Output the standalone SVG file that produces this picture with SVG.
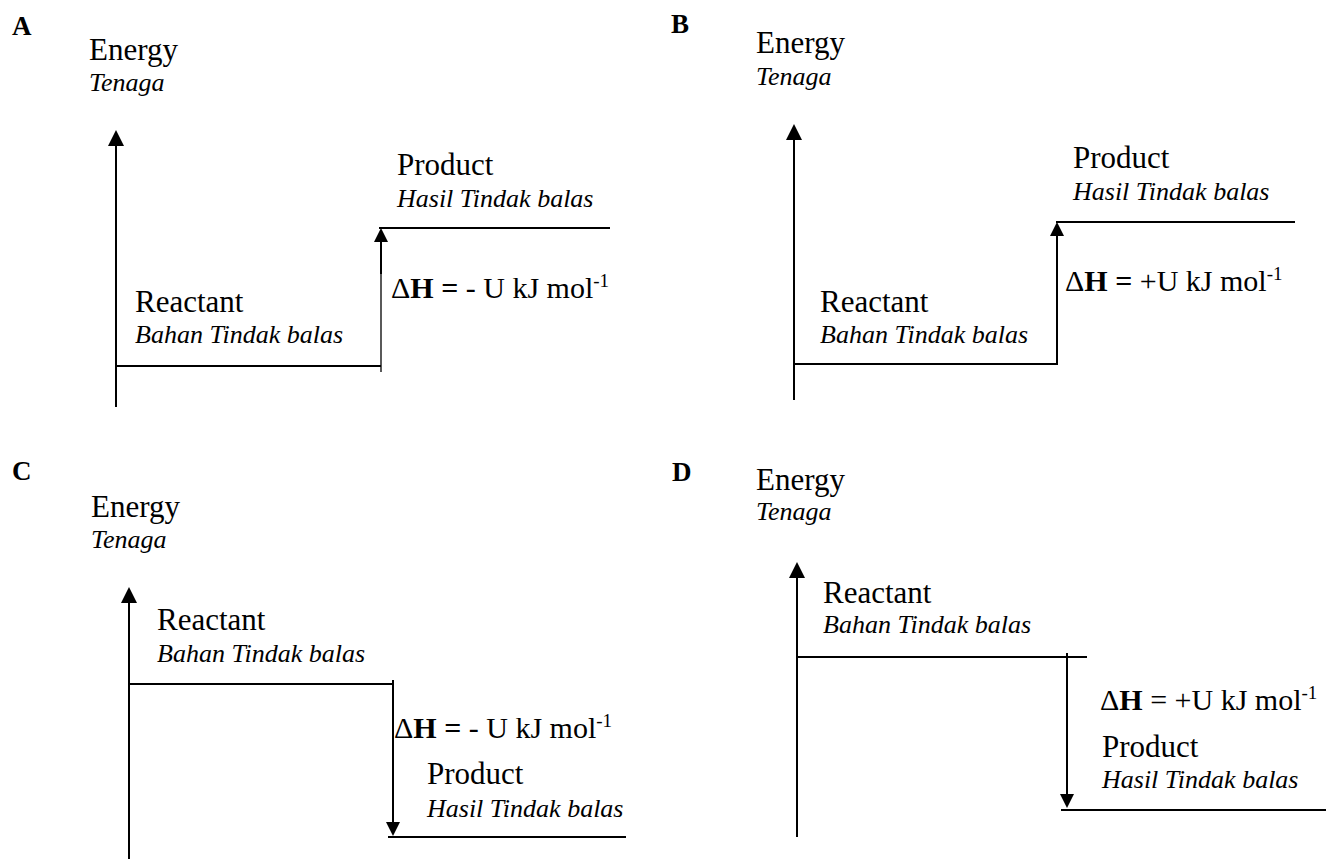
<svg xmlns="http://www.w3.org/2000/svg" width="1335" height="859" viewBox="0 0 1335 859">
<style>
text{font-family:"Liberation Serif","Times New Roman",serif;fill:#000}
.lbl{font-size:27px;font-weight:bold}
.rm{font-size:31px}
.it{font-size:26px;font-style:italic}
.dh{font-size:30px}
.b{font-weight:bold}
.ln{stroke:#000;stroke-width:2;fill:none}
.thin{stroke:#000;stroke-width:1.3;fill:none}
</style>
<defs>
<marker id="ah" viewBox="0 0 16 16" refX="8" refY="8" markerWidth="16" markerHeight="16" markerUnits="userSpaceOnUse" orient="auto">
<path d="M0,0 L16,8 L0,16 z" fill="#000"/>
</marker>
<marker id="ahs" viewBox="0 0 16 16" refX="8" refY="8" markerWidth="14" markerHeight="14" markerUnits="userSpaceOnUse" orient="auto">
<path d="M0,0 L16,8 L0,16 z" fill="#000"/>
</marker>
</defs>
<g id="connectors">
<!-- A -->
<line class="ln" x1="116" y1="407" x2="116" y2="138" marker-end="url(#ah)"/>
<line class="ln" x1="116" y1="366" x2="381" y2="366"/>
<line class="thin" x1="381" y1="372" x2="381" y2="272"/>
<line class="ln" x1="381" y1="274" x2="381" y2="235" marker-end="url(#ahs)"/>
<line class="ln" x1="379" y1="228" x2="610" y2="228"/>
<!-- B -->
<line class="ln" x1="794" y1="400" x2="794" y2="132" marker-end="url(#ah)"/>
<line class="ln" x1="794" y1="364" x2="1057" y2="364"/>
<line class="ln" x1="1057" y1="365" x2="1057" y2="229" marker-end="url(#ahs)"/>
<line class="ln" x1="1056" y1="222" x2="1295" y2="222"/>
<!-- C -->
<line class="ln" x1="129" y1="859" x2="129" y2="595" marker-end="url(#ah)"/>
<line class="ln" x1="129" y1="684" x2="394" y2="684"/>
<line class="ln" x1="393" y1="680" x2="393" y2="829" marker-end="url(#ahs)"/>
<line class="ln" x1="388" y1="837" x2="626" y2="837"/>
<!-- D -->
<line class="ln" x1="797" y1="837" x2="797" y2="570" marker-end="url(#ah)"/>
<line class="ln" x1="797" y1="657" x2="1087" y2="657"/>
<line class="ln" x1="1067" y1="653" x2="1067" y2="801" marker-end="url(#ahs)"/>
<line class="ln" x1="1061" y1="810" x2="1326" y2="810"/>
</g>
<g id="panel-A">
<text class="lbl" x="12" y="35">A</text>
<text class="rm" x="89" y="60">Energy</text>
<text class="it" x="89" y="91">Tenaga</text>
<text class="rm" x="397" y="175">Product</text>
<text class="it" x="397" y="207">Hasil Tindak balas</text>
<text class="dh" x="391" y="298">Δ<tspan class="b">H =</tspan> - U kJ mol<tspan font-size="19" dy="-11">-1</tspan></text>
<text class="rm" x="135" y="312">Reactant</text>
<text class="it" x="135" y="343">Bahan Tindak balas</text>
</g>
<g id="panel-B">
<text class="lbl" x="671" y="33">B</text>
<text class="rm" x="756" y="53">Energy</text>
<text class="it" x="756" y="85">Tenaga</text>
<text class="rm" x="1073" y="168">Product</text>
<text class="it" x="1073" y="200">Hasil Tindak balas</text>
<text class="dh" x="1065" y="291">Δ<tspan class="b">H =</tspan> +U kJ mol<tspan font-size="19" dy="-11">-1</tspan></text>
<text class="rm" x="820" y="312">Reactant</text>
<text class="it" x="820" y="343">Bahan Tindak balas</text>
</g>
<g id="panel-C">
<text class="lbl" x="12" y="480">C</text>
<text class="rm" x="91" y="517">Energy</text>
<text class="it" x="91" y="548">Tenaga</text>
<text class="rm" x="157" y="630">Reactant</text>
<text class="it" x="157" y="662">Bahan Tindak balas</text>
<text class="dh" x="394" y="738">Δ<tspan class="b">H =</tspan> - U kJ mol<tspan font-size="19" dy="-11">-1</tspan></text>
<text class="rm" x="427" y="784">Product</text>
<text class="it" x="427" y="817">Hasil Tindak balas</text>
</g>
<g id="panel-D">
<text class="lbl" x="672" y="481">D</text>
<text class="rm" x="756" y="490">Energy</text>
<text class="it" x="756" y="520">Tenaga</text>
<text class="rm" x="823" y="603">Reactant</text>
<text class="it" x="823" y="633">Bahan Tindak balas</text>
<text class="dh" x="1100" y="710">Δ<tspan class="b">H</tspan> = +U kJ mol<tspan font-size="19" dy="-11">-1</tspan></text>
<text class="rm" x="1102" y="757">Product</text>
<text class="it" x="1102" y="788">Hasil Tindak balas</text>
</g>
</svg>
